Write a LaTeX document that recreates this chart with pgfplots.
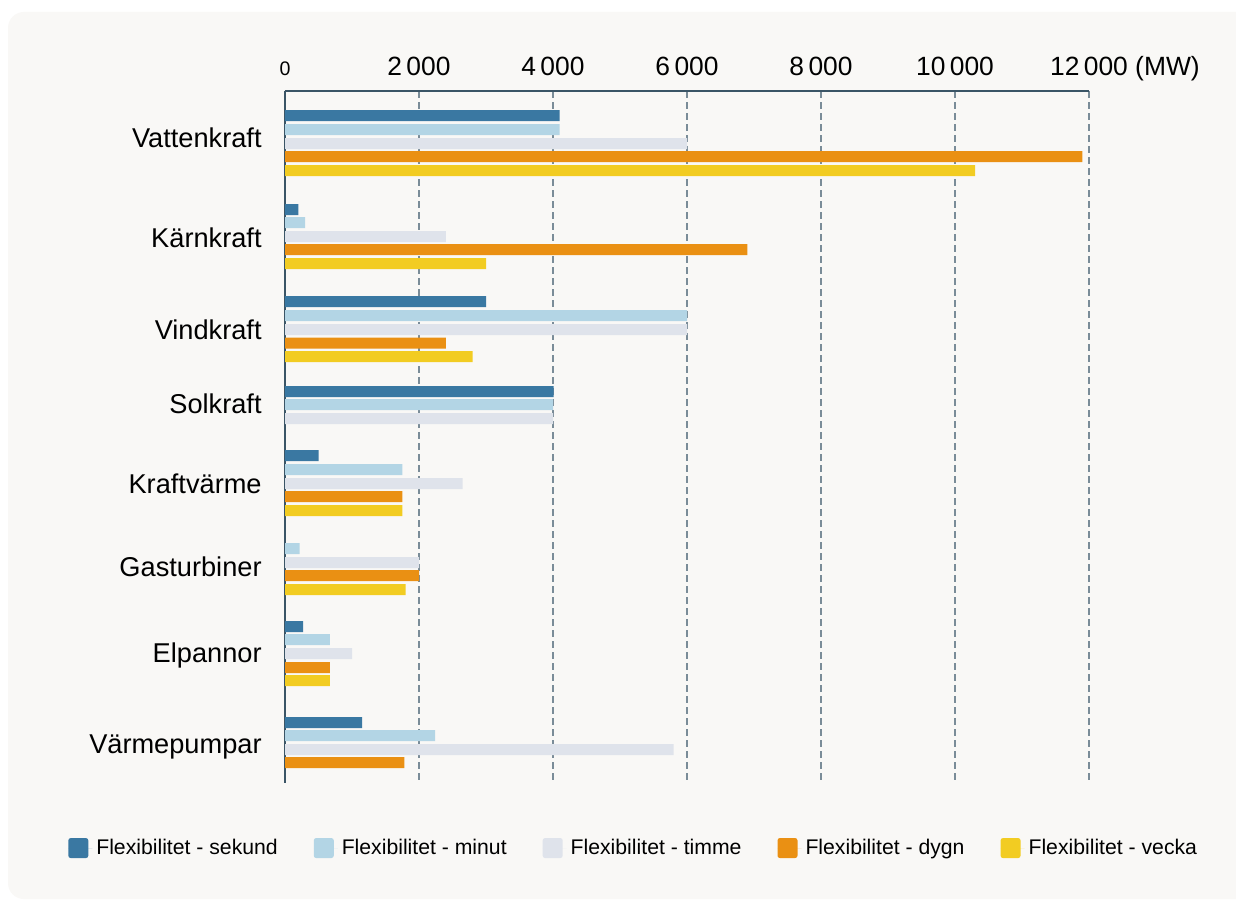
\documentclass[border=0pt]{standalone}
\usepackage{fontspec}
\setmainfont{Liberation Sans}
\usepackage{pgfplots}
\pgfplotsset{compat=1.18}
\definecolor{sek}{HTML}{3A78A2}
\definecolor{minu}{HTML}{B3D5E5}
\definecolor{tim}{HTML}{DFE3EB}
\definecolor{dyg}{HTML}{EA9013}
\definecolor{vec}{HTML}{F2CC22}
\definecolor{bgc}{HTML}{F9F8F6}
\definecolor{axiscol}{HTML}{3B5566}
\definecolor{gridcol}{HTML}{7A8C98}
\pgfplotsset{myleg/.style={legend image code/.code={\fill[##1, rounded corners=1.2pt] (0pt,-5pt) rectangle (10pt,5pt); \path (0pt,0pt) -- (12pt,0pt);}}}
\begin{document}
\begin{tikzpicture}
\clip (0,0) rectangle (618pt,450.5pt);
\fill[white] (0,0) rectangle (618pt,450.5pt);
\fill[bgc, rounded corners=8pt] (4pt,1pt) rectangle (640pt,444.5pt);
\begin{axis}[
  at={(142.5pt,59pt)}, anchor=south west,
  scale only axis, width=402pt, height=346pt,
  xmin=0, xmax=12000, ymin=91, ymax=783, y dir=reverse,
  axis x line*=top, axis y line*=left,
  axis line style={axiscol, line width=0.6pt},
  scaled x ticks=false,
  xtick={0,2000,4000,6000,8000,10000,12000},
  xticklabels={{\fontsize{9.8}{10}\selectfont 0}, 2\,000, 4\,000, 6\,000, 8\,000, 10\,000, {12\,000\rlap{ (MW)}}},
  xticklabel style={anchor=base, inner sep=0pt, yshift=8pt, font=\fontsize{13.2}{15}\selectfont},
  xmajorgrids, grid style={gridcol, dash pattern=on 3.5pt off 2pt, line width=0.8pt},
  major tick length=0pt,
  ytick={147.3,247.7,339,413.5,493.3,576,662.3,753.3},
  yticklabels={Vattenkraft, Kärnkraft, Vindkraft, Solkraft, Kraftvärme, Gasturbiner, Elpannor, Värmepumpar},
  yticklabel style={anchor=base east, inner sep=0pt, xshift=-11.5pt, font=\fontsize{13.6}{15}\selectfont},
  xbar, bar width=11, bar shift=0pt,
  legend columns=5,
  legend style={at={(axis description cs:-0.27,-0.094)}, anchor=west, draw=none, fill=none, inner sep=0pt,
    font=\fontsize{10.6}{12}\selectfont,
    /tikz/every even column/.append style={column sep=16pt}},
]
\addplot[fill=sek, draw=none, myleg] coordinates {(4100,115.5) (200,209.5) (3000,301.5) (4010,391.5) (500,455.5) (270,626.5) (1150,722.5)};
\addlegendentry{Flexibilitet - sekund}
\addplot[fill=minu, draw=none, myleg] coordinates {(4100,129.5) (300,222.5) (6000,315.5) (4000,404.5) (1750,469.5) (220,548.5) (670,639.5) (2240,735.5)};
\addlegendentry{Flexibilitet - minut}
\addplot[fill=tim, draw=none, myleg] coordinates {(6000,143.5) (2400,236.5) (6000,329.5) (4000,418.5) (2650,483.5) (2000,562.5) (1000,653.5) (5800,749.5)};
\addlegendentry{Flexibilitet - timme}
\addplot[fill=dyg, draw=none, myleg] coordinates {(11900,156.5) (6900,249.5) (2400,343) (1750,496.5) (2000,575.5) (670,667.5) (1780,762.5)};
\addlegendentry{Flexibilitet - dygn}
\addplot[fill=vec, draw=none, myleg] coordinates {(10300,170.5) (3000,263.5) (2800,356.5) (1750,510.5) (1800,589.5) (670,680.5)};
\addlegendentry{Flexibilitet - vecka}
\end{axis}
\end{tikzpicture}
\end{document}
